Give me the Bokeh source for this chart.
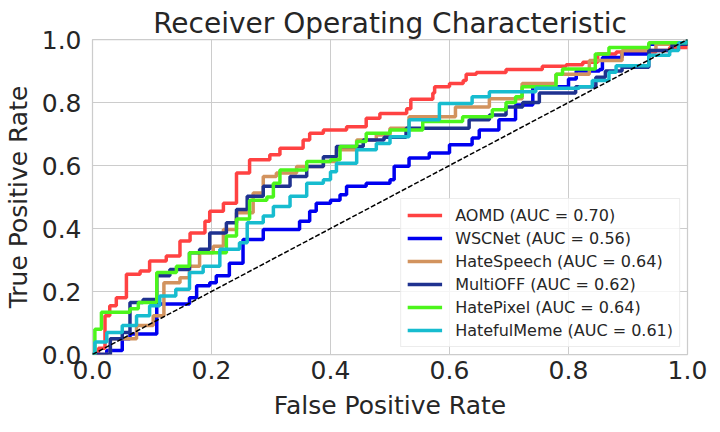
from bokeh.plotting import figure
from bokeh.models import Range1d, FixedTicker, PrintfTickFormatter, Legend, LegendItem
from bokeh.embed import file_html
from bokeh.resources import INLINE

# ---- data ----
names = ["AOMD", "WSCNet", "HateSpeech", "MultiOFF", "HatePixel", "HatefulMeme"]
aucs = [0.70, 0.56, 0.64, 0.62, 0.64, 0.61]
colors = ["#ff4242", "#0000f0", "#d2935e", "#1f3290", "#4cf51c", "#17bccf"]

aomd_fpr = [0, 0.01, 0.021, 0.029, 0.04, 0.057, 0.08, 0.096, 0.124, 0.147, 0.164, 0.189, 0.197, 0.22, 0.242,
            0.264, 0.298, 0.315, 0.354, 0.365, 0.388, 0.427, 0.46, 0.483, 0.528, 0.535, 0.572, 0.575, 0.6, 0.623,
            0.628, 0.645, 0.695, 0.756, 0.796, 0.824, 0.849, 0.88, 0.947, 0.97, 1.0]
aomd_tpr = [0, 0.02, 0.123, 0.155, 0.18, 0.255, 0.265, 0.297, 0.313, 0.36, 0.386, 0.423, 0.455, 0.48, 0.576,
            0.618, 0.634, 0.655, 0.681, 0.702, 0.713, 0.723, 0.75, 0.765, 0.78, 0.81, 0.83, 0.85, 0.86, 0.87,
            0.89, 0.895, 0.905, 0.915, 0.92, 0.928, 0.954, 0.96, 0.965, 0.975, 1.0]

wscnet_fpr = [0, 0.024, 0.05, 0.063, 0.108, 0.13, 0.163, 0.175, 0.197, 0.208, 0.225, 0.23, 0.253, 0.287, 0.332,
              0.348, 0.365, 0.376, 0.4, 0.416, 0.427, 0.46, 0.5, 0.507, 0.532, 0.566, 0.6, 0.638, 0.65, 0.683,
              0.711, 0.74, 0.8, 0.813, 0.852, 0.857, 0.89, 0.935, 1.0]
wscnet_tpr = [0, 0.013, 0.05, 0.065, 0.16, 0.16, 0.18, 0.218, 0.228, 0.25, 0.25, 0.29, 0.365, 0.397, 0.397,
              0.423, 0.455, 0.48, 0.49, 0.507, 0.534, 0.544, 0.555, 0.598, 0.624, 0.64, 0.666, 0.687, 0.713, 0.745,
              0.792, 0.85, 0.875, 0.9, 0.905, 0.943, 0.954, 0.985, 1.0]

hatespeech_fpr = [0, 0.03, 0.074, 0.102, 0.12, 0.147, 0.163, 0.18, 0.203, 0.22, 0.242, 0.27, 0.287, 0.309, 0.343,
                  0.388, 0.41, 0.444, 0.477, 0.5, 0.532, 0.61, 0.667, 0.722, 0.779, 0.835, 0.89, 0.947, 1.0]
hatespeech_tpr = [0, 0.05, 0.092, 0.123, 0.228, 0.244, 0.28, 0.323, 0.344, 0.397, 0.45, 0.513, 0.565, 0.576, 0.597,
                  0.613, 0.65, 0.681, 0.697, 0.718, 0.755, 0.786, 0.812, 0.86, 0.89, 0.933, 0.965, 0.985, 1.0]

multioff_fpr = [0, 0.03, 0.05, 0.063, 0.085, 0.108, 0.13, 0.163, 0.18, 0.197, 0.225, 0.242, 0.26, 0.287, 0.332,
                0.36, 0.388, 0.41, 0.455, 0.49, 0.527, 0.583, 0.633, 0.667, 0.695, 0.723, 0.751, 0.812, 0.846,
                0.862, 0.89, 0.935, 0.974, 1.0]
multioff_tpr = [0, 0.05, 0.07, 0.165, 0.175, 0.25, 0.27, 0.323, 0.334, 0.386, 0.418, 0.46, 0.502, 0.534, 0.565,
                0.597, 0.628, 0.66, 0.681, 0.69, 0.718, 0.718, 0.745, 0.76, 0.786, 0.8, 0.83, 0.85, 0.88,
                0.9, 0.912, 0.965, 0.985, 1.0]

hatepixel_fpr = [0, 0.004, 0.015, 0.063, 0.077, 0.108, 0.141, 0.163, 0.208, 0.225, 0.242, 0.264, 0.293, 0.304,
                 0.315, 0.36, 0.4, 0.416, 0.444, 0.46, 0.5, 0.555, 0.622, 0.672, 0.695, 0.711, 0.722, 0.779, 0.79,
                 0.845, 0.868, 0.935, 1.0]
hatepixel_tpr = [0, 0.08, 0.134, 0.145, 0.165, 0.26, 0.28, 0.323, 0.323, 0.376, 0.43, 0.49, 0.5, 0.544,
                 0.586, 0.613, 0.618, 0.66, 0.676, 0.702, 0.713, 0.74, 0.755, 0.777, 0.8, 0.818, 0.85, 0.89, 0.906,
                 0.954, 0.975, 0.99, 1.0]

hatefulmeme_fpr = [0, 0.004, 0.024, 0.05, 0.074, 0.096, 0.113, 0.14, 0.163, 0.186, 0.214, 0.247, 0.26, 0.287,
                   0.304, 0.332, 0.36, 0.388, 0.4, 0.41, 0.444, 0.477, 0.5, 0.532, 0.583, 0.638, 0.667, 0.745,
                   0.818, 0.84, 0.868, 0.88, 0.935, 0.97, 0.985, 1.0]
hatefulmeme_tpr = [0, 0.04, 0.07, 0.092, 0.123, 0.155, 0.186, 0.207, 0.26, 0.28, 0.334, 0.355, 0.418, 0.44,
                   0.47, 0.502, 0.544, 0.555, 0.58, 0.607, 0.65, 0.67, 0.691, 0.745, 0.797, 0.818, 0.834, 0.845,
                   0.85, 0.87, 0.896, 0.917, 0.95, 0.965, 0.99, 1.0]

chance_x = [0, 1]
chance_y = [0, 1]

tick_values = [0.0, 0.2, 0.4, 0.6, 0.8, 1.0]

fprs = [aomd_fpr, wscnet_fpr, hatespeech_fpr, multioff_fpr, hatepixel_fpr, hatefulmeme_fpr]
tprs = [aomd_tpr, wscnet_tpr, hatespeech_tpr, multioff_tpr, hatepixel_tpr, hatefulmeme_tpr]

FONT = "DejaVu Sans"
TXT = "#262626"
GRID = "#cccccc"

p = figure(output_backend="svg", toolbar_location=None,
           frame_width=595, frame_height=315,
           min_border_left=86, min_border_right=24, min_border_top=39, min_border_bottom=66,
           x_range=Range1d(0, 1), y_range=Range1d(0, 1),
           title="Receiver Operating Characteristic")

p.background_fill_color = "white"
p.border_fill_color = "white"
p.outline_line_color = GRID
p.outline_line_width = 1.25

p.title.text_font = FONT
p.title.text_font_size = "28px"
p.title.text_font_style = "normal"
p.title.text_color = TXT
p.title.align = "center"
p.title.standoff = 0
p.title.offset = 0

for ax in (p.xaxis[0], p.yaxis[0]):
    ax.ticker = FixedTicker(ticks=tick_values)
    ax.formatter = PrintfTickFormatter(format="%.1f")
    ax.major_label_text_font = FONT
    ax.major_label_text_font_size = "25px"
    ax.major_label_text_color = TXT
    ax.axis_label_text_font = FONT
    ax.axis_label_text_font_size = "25px"
    ax.axis_label_text_font_style = "normal"
    ax.axis_label_text_color = TXT
    ax.axis_line_color = None
    ax.major_tick_line_color = None
    ax.minor_tick_line_color = None
    ax.major_tick_out = 0
    ax.major_tick_in = 0

p.xaxis.axis_label = "False Positive Rate"
p.yaxis.axis_label = "True Positive Rate"
p.xaxis.major_label_standoff = 6
p.yaxis.major_label_standoff = 11
p.xaxis.axis_label_standoff = 9
p.yaxis.axis_label_standoff = 6

p.xgrid.ticker = FixedTicker(ticks=tick_values)
p.ygrid.ticker = FixedTicker(ticks=tick_values)
p.grid.grid_line_color = GRID
p.grid.grid_line_width = 1

items = []
for name, auc, col, fx, ty in zip(names, aucs, colors, fprs, tprs):
    r = p.step(fx, ty, mode="after", line_color=col, line_width=3.5)
    items.append(LegendItem(label=f"{name} (AUC = {auc:.2f})", renderers=[r]))

p.line(chance_x, chance_y, line_color="black", line_width=1.5, line_dash="5 2")

legend = Legend(items=items, location="bottom_right")
legend.label_text_font = FONT
legend.label_text_font_size = "16px"
legend.label_text_color = TXT
legend.glyph_width = 35
legend.glyph_height = 20
legend.label_height = 20
legend.label_standoff = 13
legend.spacing = 3
legend.padding = 6
legend.margin = 7
legend.border_line_color = "#d9d9d9"
legend.border_line_width = 1
legend.background_fill_color = "white"
legend.background_fill_alpha = 0.8
p.add_layout(legend)

open("out.html", "w").write(file_html(p, INLINE))
